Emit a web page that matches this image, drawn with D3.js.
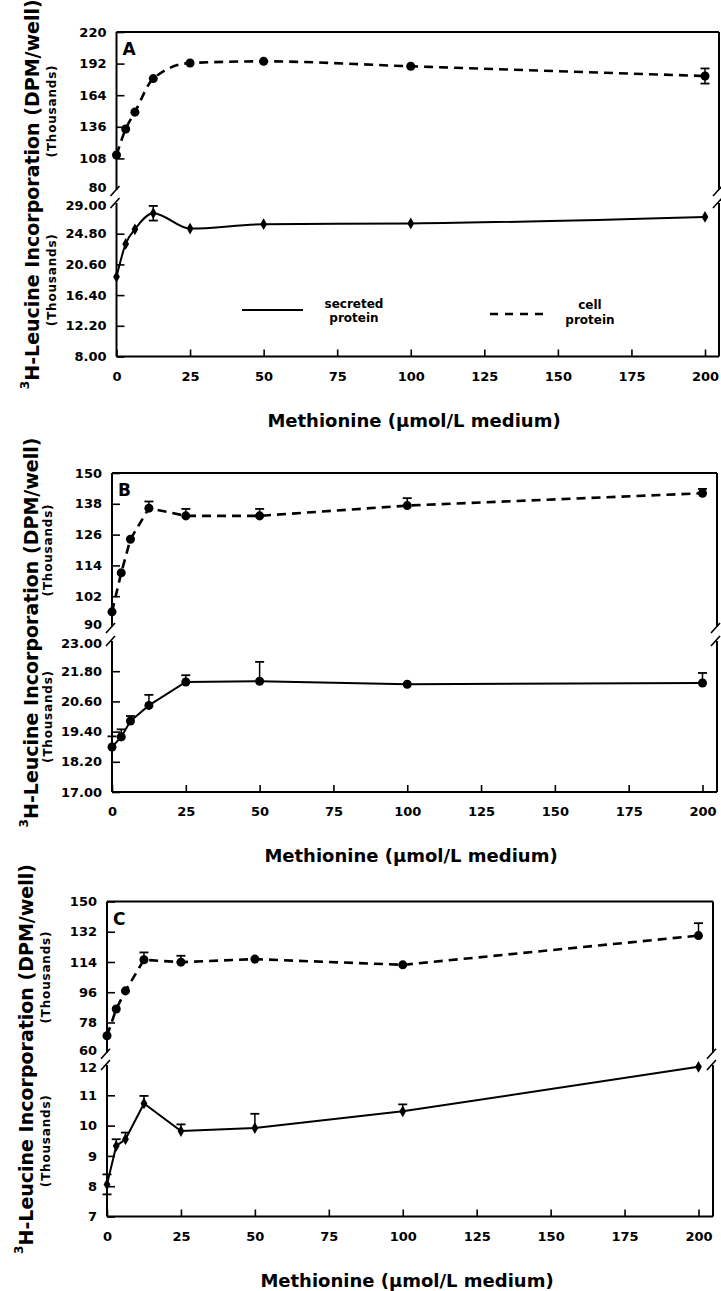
<!DOCTYPE html>
<html>
<head>
<meta charset="utf-8">
<script src="https://cdn.jsdelivr.net/npm/d3@7"></script>
<style>
  body { margin: 0; background: #fff; }
  text { font-family: "DejaVu Sans", sans-serif; font-weight: bold; fill: #000; }
</style>
</head>
<body>
<div id="chart"></div>
<script>
// methionine concentrations (µmol/L medium) and axis ticks
var methionine = [0, 3.125, 6.25, 12.5, 25, 50, 100, 200];
var xTicks = [0, 25, 50, 75, 100, 125, 150, 175, 200];

// panel A
var cellA = [111, 134, 149, 178.7, 192.5, 194, 189.6, 181];
var cellAErr = [0, 0, 0, 0, 0, 0, 0, 6.7];
var cellADown = [0, 0, 0, 0, 0, 0, 0, 6.7];
var secretedA = [18.9, 23.4, 25.4, 27.6, 25.5, 26.1, 26.2, 27.1];
var secretedAErr = [0, 0, 0, 1.0, 0, 0, 0, 0];
var secretedADown = [0, 0, 0, 1.0, 0, 0, 0, 0];
var cellATicks = [80, 108, 136, 164, 192, 220];
var secretedATicks = [8, 12.2, 16.4, 20.6, 24.8, 29];

// panel B
var cellB = [95.9, 111.1, 124.2, 136.3, 133.3, 133.3, 137.3, 142.1];
var cellBErr = [0, 0, 0, 2.6, 2.7, 2.7, 2.9, 1.7];
var secretedB = [18.79, 19.19, 19.82, 20.44, 21.37, 21.4, 21.28, 21.33];
var secretedBErr = [0.42, 0.3, 0.2, 0.42, 0.27, 0.77, 0, 0.4];
var cellBTicks = [90, 102, 114, 126, 138, 150];
var secretedBTicks = [17, 18.2, 19.4, 20.6, 21.8, 23];

// panel C
var cellC = [70.1, 86, 96.8, 115.3, 113.9, 115.7, 112.3, 129.7];
var cellCErr = [0, 0, 0, 4.4, 3.8, 0, 0, 7.4];
var secretedC = [8.06, 9.33, 9.55, 10.73, 9.82, 9.92, 10.47, 11.94];
var secretedCErr = [0.33, 0.22, 0.22, 0.25, 0.22, 0.47, 0.23, 0];
var secretedCDown = [0.33, 0, 0, 0, 0, 0, 0, 0];
var cellCTicks = [60, 78, 96, 114, 132, 150];
var secretedCTicks = [7, 8, 9, 10, 11, 12];

var svgWidth = 721;
var svgHeight = 1291;

var svg = d3.select("#chart")
  .append("svg")
  .attr("width", svgWidth)
  .attr("height", svgHeight);

svg.append("rect").attr("width", svgWidth).attr("height", svgHeight).attr("fill", "#fff");

// layout of each panel (pixels)
var panels = [
  { label: "A", top: 32, upperBottom: 190, lowerTop: 203, bottom: 356.5, x0: 116.5, x200: 705, right: 719,
    cell: cellA, cellErr: cellAErr, cellDown: cellADown, sec: secretedA, secErr: secretedAErr, secDown: secretedADown,
    upperTicks: cellATicks, lowerTicks: secretedATicks, lowerFmt: ".2f", secSymbol: d3.symbolDiamond,
    curve: d3.curveMonotoneX, titleX: 31, thouX: 52, xTitleX: 414, legend: true },
  { label: "B", top: 473, upperBottom: 627, lowerTop: 641, bottom: 792, x0: 112, x200: 702.5, right: 717,
    cell: cellB, cellErr: cellBErr, cellDown: null, sec: secretedB, secErr: secretedBErr, secDown: null,
    upperTicks: cellBTicks, lowerTicks: secretedBTicks, lowerFmt: ".2f", secSymbol: d3.symbolCircle,
    curve: d3.curveLinear, titleX: 30, thouX: 48, xTitleX: 411, legend: false },
  { label: "C", top: 901.5, upperBottom: 1052.7, lowerTop: 1065, bottom: 1216.5, x0: 107, x200: 698.5, right: 713,
    cell: cellC, cellErr: cellCErr, cellDown: null, sec: secretedC, secErr: secretedCErr, secDown: secretedCDown,
    upperTicks: cellCTicks, lowerTicks: secretedCTicks, lowerFmt: "d", secSymbol: d3.symbolDiamond,
    curve: d3.curveLinear, titleX: 25, thouX: 46, xTitleX: 407, legend: false }
];

function styleAxis(g) {
  g.select(".domain").remove();
  g.selectAll("text")
    .attr("font-family", "DejaVu Sans, sans-serif")
    .attr("font-weight", "bold")
    .attr("font-size", 13)
    .attr("fill", "#000");
  g.selectAll("line").attr("stroke", "#000").attr("stroke-width", 1.6);
}

function breakMark(g, x, y) {
  g.append("line")
    .attr("x1", x - 5).attr("y1", y + 5)
    .attr("x2", x + 4).attr("y2", y - 5)
    .attr("stroke", "#000").attr("stroke-width", 1.6);
}

function drawSeries(g, x, y, values, errUp, errDown, dashed, symbol, symSize, curve) {
  var pts = methionine.map(function(m, i) { return [m, values[i], errUp[i], errDown ? errDown[i] : 0]; });

  var line = d3.line()
    .x(function(d) { return x(d[0]); })
    .y(function(d) { return y(d[1]); })
    .curve(curve);

  g.append("path")
    .datum(pts)
    .attr("d", line)
    .attr("fill", "none")
    .attr("stroke", "#000")
    .attr("stroke-width", dashed ? 2.6 : 2)
    .attr("stroke-dasharray", dashed ? "9,6" : null);

  // error bars
  pts.forEach(function(d) {
    [[d[2], 1], [d[3], -1]].forEach(function(e) {
      if (!e[0]) return;
      var yEnd = y(d[1] + e[1] * e[0]);
      g.append("line")
        .attr("x1", x(d[0])).attr("x2", x(d[0]))
        .attr("y1", y(d[1])).attr("y2", yEnd)
        .attr("stroke", "#000").attr("stroke-width", 1.5);
      g.append("line")
        .attr("x1", x(d[0]) - 4.5).attr("x2", x(d[0]) + 4.5)
        .attr("y1", yEnd).attr("y2", yEnd)
        .attr("stroke", "#000").attr("stroke-width", 1.8);
    });
  });

  g.selectAll(null)
    .data(pts)
    .enter()
    .append("path")
    .attr("transform", function(d) { return `translate(${x(d[0])},${y(d[1])})`; })
    .attr("d", d3.symbol().type(symbol).size(symSize))
    .attr("fill", "#000");
}

function drawPanel(p) {
  var g = svg.append("g");

  var x = d3.scaleLinear().domain([0, 200]).range([p.x0, p.x200]);
  var yU = d3.scaleLinear().domain(d3.extent(p.upperTicks)).range([p.upperBottom, p.top]);
  var yL = d3.scaleLinear().domain(d3.extent(p.lowerTicks)).range([p.bottom, p.lowerTop]);

  // frame: left axis, top, right side, bottom
  var ax = x(0);
  [[ax, p.top, ax, p.upperBottom], [ax, p.lowerTop, ax, p.bottom],
   [ax, p.top, p.right, p.top], [ax, p.bottom, p.right, p.bottom],
   [p.right, p.top, p.right, p.upperBottom], [p.right, p.lowerTop, p.right, p.bottom]]
    .forEach(function(s) {
      g.append("line")
        .attr("x1", s[0]).attr("y1", s[1]).attr("x2", s[2]).attr("y2", s[3])
        .attr("stroke", "#000").attr("stroke-width", 2);
    });

  breakMark(g, ax - 1, p.upperBottom + 1);
  breakMark(g, ax - 1, p.lowerTop);
  breakMark(g, p.right - 1, p.upperBottom + 1);
  breakMark(g, p.right - 1, p.lowerTop);

  // x axis
  var xAxisG = g.append("g")
    .attr("transform", `translate(0, ${p.bottom})`)
    .call(d3.axisBottom(x).tickValues(xTicks).tickSizeInner(-7).tickSizeOuter(0).tickPadding(15));
  styleAxis(xAxisG);

  // y axes, ticks pointing inward
  var upperG = g.append("g")
    .attr("transform", `translate(${ax}, 0)`)
    .call(d3.axisLeft(yU).tickValues(p.upperTicks).tickFormat(d3.format("d")).tickSizeInner(-8).tickSizeOuter(0).tickPadding(10));
  styleAxis(upperG);
  var upperMin = upperG.selectAll(".tick").filter(function(d) { return d === p.upperTicks[0]; });
  upperMin.select("line").remove();
  upperMin.select("text").attr("dy", "0.1em");

  var lowerG = g.append("g")
    .attr("transform", `translate(${ax}, 0)`)
    .call(d3.axisLeft(yL).tickValues(p.lowerTicks).tickFormat(d3.format(p.lowerFmt)).tickSizeInner(-8).tickSizeOuter(0).tickPadding(10));
  styleAxis(lowerG);
  var lowerMax = lowerG.selectAll(".tick").filter(function(d) { return d === p.lowerTicks[p.lowerTicks.length - 1]; });
  lowerMax.select("line").remove();
  lowerMax.select("text").attr("dy", "0.5em");

  // data
  drawSeries(g, x, yU, p.cell, p.cellErr, p.cellDown, true, d3.symbolCircle, 64, p.curve);
  drawSeries(g, x, yL, p.sec, p.secErr, p.secDown, false, p.secSymbol, p.secSymbol === d3.symbolCircle ? 64 : 40, p.curve);

  // panel letter
  g.append("text")
    .attr("x", ax + 6)
    .attr("y", p.top + 23)
    .attr("font-size", 17)
    .text(p.label);

  // y title
  var cy = (p.top + p.bottom) / 2;
  var title = g.append("text")
    .attr("transform", `translate(${p.titleX}, ${cy}) rotate(-90)`)
    .attr("text-anchor", "middle")
    .attr("dy", "0.35em")
    .attr("font-size", 19);
  title.append("tspan").attr("font-size", 12).attr("dy", "-0.2em").text("3");
  title.append("tspan").attr("dy", "0.55em").text("H-Leucine Incorporation (DPM/well)");

  [(p.top + p.upperBottom) / 2, (p.lowerTop + p.bottom) / 2].forEach(function(c) {
    g.append("text")
      .attr("transform", `translate(${p.thouX}, ${c}) rotate(-90)`)
      .attr("text-anchor", "middle")
      .attr("dy", "0.35em")
      .attr("font-size", 12)
      .attr("letter-spacing", 0.8)
      .text("(Thousands)");
  });

  // x title
  g.append("text")
    .attr("x", p.xTitleX)
    .attr("y", p.bottom + 70)
    .attr("text-anchor", "middle")
    .attr("font-size", 18)
    .text("Methionine (µmol/L medium)");

  if (p.legend) {
    g.append("line")
      .attr("x1", 242).attr("x2", 303).attr("y1", 310).attr("y2", 310)
      .attr("stroke", "#000").attr("stroke-width", 2);
    g.append("line")
      .attr("x1", 490).attr("x2", 545).attr("y1", 314).attr("y2", 314)
      .attr("stroke", "#000").attr("stroke-width", 2.6).attr("stroke-dasharray", "8,7");
    [["secreted", 354, 308], ["protein", 354, 322], ["cell", 590, 309], ["protein", 590, 324]].forEach(function(t) {
      g.append("text")
        .attr("x", t[1]).attr("y", t[2])
        .attr("text-anchor", "middle")
        .attr("font-size", 12)
        .text(t[0]);
    });
  }
}

panels.forEach(drawPanel);
</script>
</body>
</html>
